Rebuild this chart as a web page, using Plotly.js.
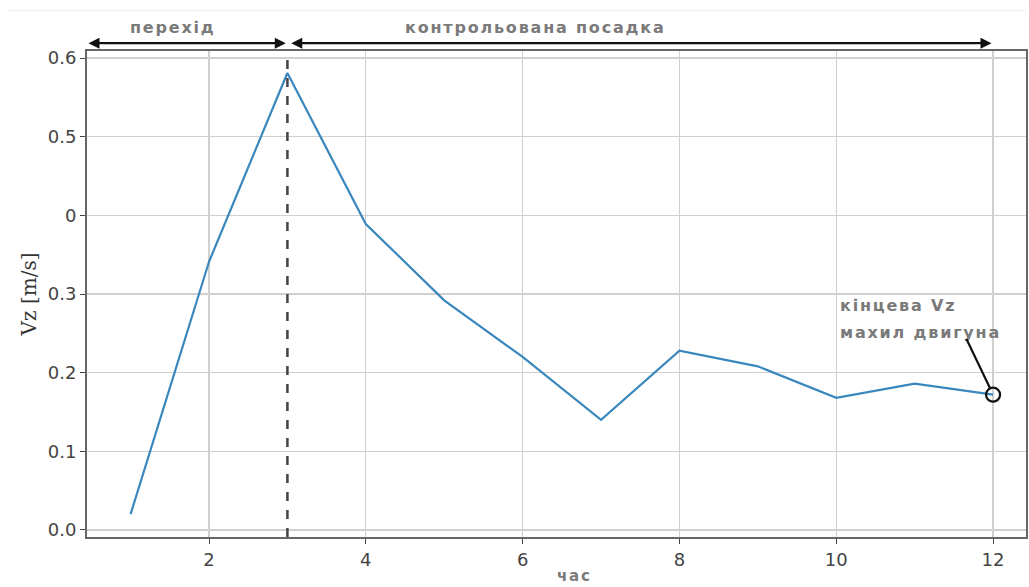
<!DOCTYPE html>
<html>
<head>
<meta charset="utf-8">
<script src="https://cdn.plot.ly/plotly-3.0.1.min.js"></script>
<style>
html,body{margin:0;padding:0;background:#fff;}
#chart{width:1029px;height:587px;}
.annotation-text{letter-spacing:1.8px;}
</style>
</head>
<body>
<div id="chart"></div>
<script>
// Data
const time = [1, 2, 3, 4, 5, 6, 7, 8, 9, 10, 11, 12];
const vz = [0.020, 0.341, 0.581, 0.389, 0.292, 0.220, 0.140, 0.228, 0.208, 0.168, 0.186, 0.172];
const yTickVals = [0.0, 0.1, 0.2, 0.3, 0.4, 0.5, 0.6];
const yTickText = ['0.0', '0.1', '0.2', '0.3', '0', '0.5', '0.6'];
const xTickVals = [2, 4, 6, 8, 10, 12];
const phaseSplit = 3;
const phaseLabels = ['перехід', 'контрольована посадка'];
const finalLabel = ['кінцева Vz', 'махил двигуна'];
const xTitle = 'час';
const yTitle = 'Vz [m/s]';

const lastX = time[time.length - 1];
const lastY = vz[vz.length - 1];
const xMin = 0.444, xMax = 12.42;

const gray = '#7a7a7a';
const labelFont = {family: 'DejaVu Sans', size: 16, color: gray, weight: 'bold'};

const traces = [
  {x: time, y: vz, mode: 'lines', line: {color: '#3a87bd', width: 2.2}, hoverinfo: 'x+y'},
  {x: [lastX], y: [lastY], mode: 'markers',
   marker: {symbol: 'circle-open', size: 14, color: '#111', line: {width: 2.2, color: '#111'}}}
];

const layout = {
  width: 1029, height: 587,
  margin: {l: 87, r: 3, t: 51, b: 50},
  paper_bgcolor: '#fff', plot_bgcolor: '#fff',
  showlegend: false,
  font: {family: 'DejaVu Sans', color: '#333'},
  xaxis: {
    range: [xMin, xMax], tickvals: xTickVals, ticks: 'outside', ticklen: 5, tickcolor: '#444',
    showgrid: true, gridcolor: '#d0d0d0', gridwidth: 1.2, zeroline: false,
    showline: true, linecolor: '#666', linewidth: 2, mirror: true,
    tickfont: {family: 'DejaVu Sans', size: 18, color: '#444'}
  },
  yaxis: {
    range: [-0.009, 0.609], tickvals: yTickVals, ticktext: yTickText, ticks: 'outside', ticklen: 5, tickcolor: '#444',
    showgrid: true, gridcolor: '#d0d0d0', gridwidth: 1.2, zeroline: false,
    showline: true, linecolor: '#666', linewidth: 2, mirror: true,
    tickfont: {family: 'DejaVu Sans', size: 18, color: '#444'},
    title: {text: yTitle, font: {family: 'DejaVu Serif', size: 20, color: '#333'}, standoff: 6}
  },
  shapes: [
    {type: 'line', xref: 'x', yref: 'paper', x0: phaseSplit, x1: phaseSplit, y0: 0, y1: 1,
     line: {color: '#444', width: 2.5, dash: 'dash'}},
    {type: 'line', xref: 'paper', yref: 'paper', x0: -0.085, x1: 1.0, y0: 1.083, y1: 1.083,
     line: {color: '#eeeeee', width: 1}}
  ],
  annotations: [
    {xref: 'x', yref: 'paper', x: phaseSplit - 0.02, y: 1.016, axref: 'x', ayref: 'pixel', ax: xMin, ay: 0,
     text: '', showarrow: true, arrowside: 'end+start', arrowhead: 2, arrowsize: 1, arrowwidth: 2.2, arrowcolor: '#111'},
    {xref: 'x', yref: 'paper', x: lastX - 0.02, y: 1.016, axref: 'x', ayref: 'pixel', ax: phaseSplit + 0.03, ay: 0,
     text: '', showarrow: true, arrowside: 'end+start', arrowhead: 2, arrowsize: 1, arrowwidth: 2.2, arrowcolor: '#111'},
    {xref: 'x', yref: 'paper', x: 1.54, y: 1.049, text: phaseLabels[0], showarrow: false,
     font: labelFont, yanchor: 'middle'},
    {xref: 'x', yref: 'paper', x: 6.17, y: 1.049, text: phaseLabels[1], showarrow: false,
     font: labelFont, yanchor: 'middle'},
    {xref: 'x', yref: 'y', x: 10.02, y: 0.285, text: finalLabel[0], showarrow: false,
     xanchor: 'left', yanchor: 'middle', font: labelFont},
    {xref: 'x', yref: 'y', x: 10.02, y: 0.251, text: finalLabel[1], showarrow: false,
     xanchor: 'left', yanchor: 'middle', font: labelFont},
    {xref: 'x', yref: 'paper', x: 6.66, y: -0.081, text: xTitle, showarrow: false,
     xanchor: 'center', yanchor: 'middle', font: {family: 'DejaVu Sans', size: 15, color: gray, weight: 'bold'}},
    {xref: 'x', yref: 'y', x: lastX, y: lastY, axref: 'x', ayref: 'y', ax: 11.65, ay: 0.245,
     text: '', showarrow: true, arrowhead: 0, arrowwidth: 2.2, arrowcolor: '#111', standoff: 7}
  ]
};

Plotly.newPlot('chart', traces, layout, {displayModeBar: false, staticPlot: true});
</script>
</body>
</html>
